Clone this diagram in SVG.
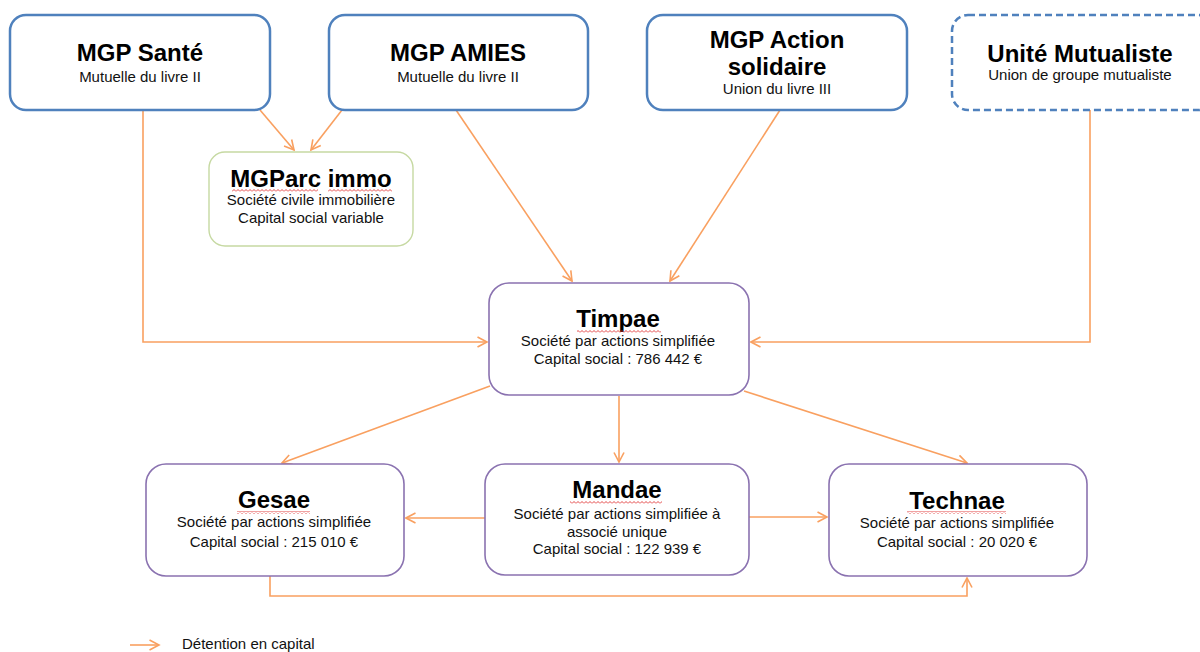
<svg xmlns="http://www.w3.org/2000/svg" width="1200" height="652" viewBox="0 0 1200 652">
<style>
.top{fill:#fff;stroke:#4f81bd;stroke-width:2.5}
.dash{stroke-dasharray:7 4}
.ent{fill:#fff;stroke:#8a72b0;stroke-width:1.6}
.sci{fill:#fff;stroke:#c6d9a2;stroke-width:1.4}
.t{font-family:"Liberation Sans",Arial,sans-serif;font-weight:bold;font-size:24px;fill:#000;text-anchor:middle}
.s{font-family:"Liberation Sans",Arial,sans-serif;font-size:15px;fill:#111;text-anchor:middle}
.c{fill:none;stroke:#f9a060;stroke-width:1.6}
.sq{fill:url(#squig)}
</style>
<defs>
<marker id="arr" viewBox="0 0 12 12" refX="10.5" refY="6" markerWidth="12" markerHeight="12" markerUnits="userSpaceOnUse" orient="auto">
<path d="M1,1 L10.5,6 L1,11" fill="none" stroke="#f9a060" stroke-width="1.6"/>
</marker>
<pattern id="squig" x="0" y="0" width="4" height="3" patternUnits="userSpaceOnUse">
<polyline points="0,2.5 2,0.5 4,2.5" fill="none" stroke="#e03030" stroke-width="0.9"/>
</pattern>
</defs>

<g id="connectors">
<path class="c" d="M143,110 V342 H487" marker-end="url(#arr)"/>
<path class="c" d="M260,110 L294,150" marker-end="url(#arr)"/>
<path class="c" d="M342,110 L311,150" marker-end="url(#arr)"/>
<path class="c" d="M456,110 L572,281" marker-end="url(#arr)"/>
<path class="c" d="M780,110 L670,281" marker-end="url(#arr)"/>
<path class="c" d="M1090,110 V342 H751" marker-end="url(#arr)"/>
<path class="c" d="M490,386 L282,463" marker-end="url(#arr)"/>
<path class="c" d="M619,396 V462" marker-end="url(#arr)"/>
<path class="c" d="M744,391 L967,463" marker-end="url(#arr)"/>
<path class="c" d="M485,518 H406" marker-end="url(#arr)"/>
<path class="c" d="M749,517 H827" marker-end="url(#arr)"/>
<path class="c" d="M270,576 V596 H967 V578" marker-end="url(#arr)"/>
</g>

<g id="mgp-sante">
<rect class="top" x="10" y="15" width="260" height="95" rx="16"/>
<text class="t" x="140" y="61">MGP Santé</text>
<text class="s" x="140" y="82">Mutuelle du livre II</text>
</g>

<g id="mgp-amies">
<rect class="top" x="329" y="15" width="259" height="95" rx="16"/>
<text class="t" x="458" y="61">MGP AMIES</text>
<text class="s" x="458" y="82">Mutuelle du livre II</text>
</g>

<g id="mgp-action-solidaire">
<rect class="top" x="647" y="15" width="260" height="95" rx="16"/>
<text class="t" x="777" y="48">MGP Action</text>
<text class="t" x="777" y="75">solidaire</text>
<text class="s" x="777" y="94">Union du livre III</text>
</g>

<g id="unite-mutualiste">
<rect class="top dash" x="952" y="15" width="262" height="95" rx="16"/>
<text class="t" x="1080" y="62">Unité Mutualiste</text>
<text class="s" x="1080" y="80">Union de groupe mutualiste</text>
</g>

<g id="mgparc-immo">
<rect class="sci" x="209" y="152" width="204" height="94" rx="16"/>
<text class="t" x="311" y="187">MGParc immo</text>
<rect class="sq" x="232" y="189" width="86" height="3"/>
<rect class="sq" x="328" y="189" width="64" height="3"/>
<text class="s" x="311" y="205">Société civile immobilière</text>
<text class="s" x="311" y="223">Capital social variable</text>
</g>

<g id="timpae">
<rect class="ent" x="489" y="283" width="260" height="112" rx="20"/>
<text class="t" x="618" y="327">Timpae</text>
<rect class="sq" x="577" y="330" width="84" height="3"/>
<text class="s" x="618" y="346">Société par actions simplifiée</text>
<text class="s" x="618" y="364">Capital social : 786 442 €</text>
</g>

<g id="gesae">
<rect class="ent" x="146" y="464" width="258" height="112" rx="20"/>
<text class="t" x="274" y="508">Gesae</text>
<rect class="sq" x="237" y="511" width="73" height="3"/>
<text class="s" x="274" y="527">Société par actions simplifiée</text>
<text class="s" x="274" y="547">Capital social : 215 010 €</text>
</g>

<g id="mandae">
<rect class="ent" x="485" y="464" width="264" height="111" rx="20"/>
<text class="t" x="617" y="498">Mandae</text>
<rect class="sq" x="570" y="501" width="92" height="3"/>
<text class="s" x="617" y="519">Société par actions simplifiée à</text>
<text class="s" x="617" y="537">associé unique</text>
<text class="s" x="617" y="554">Capital social : 122 939 €</text>
</g>

<g id="technae">
<rect class="ent" x="829" y="464" width="258" height="112" rx="20"/>
<text class="t" x="957" y="509">Technae</text>
<rect class="sq" x="907" y="511" width="99" height="3"/>
<text class="s" x="957" y="528">Société par actions simplifiée</text>
<text class="s" x="957" y="547">Capital social : 20 020 €</text>
</g>

<g id="legend">
<path class="c" d="M130,645 H159" marker-end="url(#arr)"/>
<text x="182" y="649" style="font-family:'Liberation Sans',Arial,sans-serif;font-size:15px;fill:#111">Détention en capital</text>
</g>
</svg>
